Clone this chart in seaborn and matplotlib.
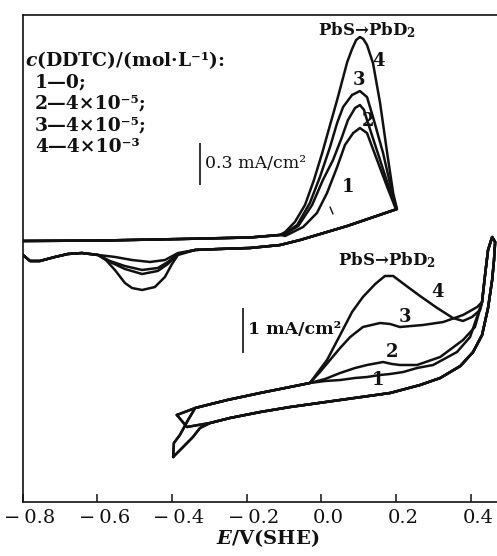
import numpy as np
import pandas as pd
import matplotlib
matplotlib.use("Agg")
import matplotlib.pyplot as plt
from matplotlib.transforms import ScaledTranslation
import seaborn as sns

# ---------------- data (E in V vs SHE, j in mA/cm^2) ----------------
# upper voltammograms (scan -0.8 -> 0.2 V)
up_fwd_base_E = [-0.802, -0.593, -0.379, -0.191, -0.111]
up_fwd_base_j = [-0.007, -0.004, 0.007, 0.018, 0.036]

up1_fwd_E = [-0.097, -0.049, -0.012, 0.015, 0.042, 0.063, 0.085, 0.103, 0.122, 0.149, 0.176, 0.197, 0.202]
up1_fwd_j = [0.029, 0.093, 0.193, 0.336, 0.521, 0.679, 0.764, 0.800, 0.764, 0.571, 0.379, 0.236, 0.221]
up2_fwd_E = [-0.097, -0.062, -0.025, 0.004, 0.031, 0.055, 0.071, 0.090, 0.103, 0.114, 0.122, 0.157, 0.189, 0.202]
up2_fwd_j = [0.043, 0.100, 0.250, 0.429, 0.571, 0.736, 0.857, 0.943, 0.964, 0.929, 0.857, 0.571, 0.307, 0.221]
up3_fwd_E = [-0.097, -0.065, -0.031, -0.004, 0.023, 0.042, 0.058, 0.082, 0.103, 0.122, 0.138, 0.165, 0.192, 0.202]
up3_fwd_j = [0.050, 0.107, 0.264, 0.450, 0.664, 0.836, 0.950, 1.036, 1.064, 1.021, 0.879, 0.621, 0.307, 0.221]
up4_fwd_E = [-0.097, -0.071, -0.044, -0.020, 0.002, 0.023, 0.042, 0.069, 0.082, 0.093, 0.103, 0.112, 0.122, 0.138, 0.157, 0.176, 0.192, 0.202]
up4_fwd_j = [0.057, 0.129, 0.250, 0.429, 0.621, 0.821, 1.000, 1.271, 1.364, 1.429, 1.450, 1.436, 1.393, 1.264, 0.979, 0.621, 0.336, 0.221]

up_rev_E = [0.202, 0.069, -0.057, -0.111, -0.191, -0.272, -0.338]
up_rev_j = [0.221, 0.100, 0.000, -0.036, -0.057, -0.064, -0.071]

up1_dip_E = [-0.384, -0.419, -0.459, -0.507, -0.553, -0.598]
up1_dip_j = [-0.093, -0.143, -0.157, -0.143, -0.121, -0.107]
up2_dip_E = [-0.384, -0.411, -0.438, -0.480, -0.526, -0.566, -0.598]
up2_dip_j = [-0.100, -0.157, -0.200, -0.214, -0.186, -0.150, -0.107]
up3_dip_E = [-0.384, -0.411, -0.438, -0.480, -0.526, -0.566, -0.598]
up3_dip_j = [-0.100, -0.171, -0.221, -0.243, -0.207, -0.157, -0.107]
up4_dip_E = [-0.384, -0.400, -0.419, -0.446, -0.480, -0.507, -0.526, -0.553, -0.577, -0.598]
up4_dip_j = [-0.107, -0.171, -0.264, -0.336, -0.357, -0.343, -0.307, -0.214, -0.143, -0.107]

up_tail_E = [-0.641, -0.679, -0.713, -0.754, -0.780, -0.802]
up_tail_j = [-0.093, -0.100, -0.121, -0.150, -0.150, -0.100]

# lower voltammograms (scan -0.4 -> 0.46 V)
lo_startA_E = [-0.397, -0.395, -0.379, -0.357, -0.338]
lo_startA_j = [-1.267, -0.956, -0.778, -0.444, -0.178]
lo_startB_E = [-0.387, -0.338]
lo_startB_j = [-0.333, -0.178]
lo_fwd_base_E = [-0.306, -0.252, -0.164, -0.084, -0.031]
lo_fwd_base_j = [-0.111, 0.000, 0.156, 0.289, 0.378]

lo1_E = [0.010, 0.050, 0.090, 0.122, 0.157, 0.184, 0.219, 0.256, 0.299, 0.363, 0.398]
lo1_j = [0.422, 0.444, 0.489, 0.511, 0.556, 0.578, 0.622, 0.711, 0.778, 1.067, 1.400]
lo2_E = [0.010, 0.050, 0.090, 0.122, 0.165, 0.189, 0.210, 0.256, 0.318, 0.379, 0.411]
lo2_j = [0.467, 0.600, 0.711, 0.778, 0.844, 0.800, 0.778, 0.778, 0.956, 1.333, 1.622]
lo3_E = [-0.004, 0.023, 0.050, 0.077, 0.111, 0.157, 0.184, 0.210, 0.272, 0.326, 0.379, 0.417]
lo3_j = [0.622, 0.889, 1.156, 1.400, 1.622, 1.711, 1.689, 1.622, 1.667, 1.733, 1.889, 2.067]
lo4_E = [-0.009, 0.015, 0.050, 0.082, 0.111, 0.144, 0.170, 0.192, 0.224, 0.264, 0.310, 0.352, 0.379, 0.403, 0.425]
lo4_j = [0.622, 0.889, 1.444, 1.956, 2.289, 2.578, 2.756, 2.756, 2.556, 2.311, 2.044, 1.822, 1.756, 1.844, 2.000]

lo_fwd_tail_E = [0.430, 0.438, 0.446, 0.457]
lo_fwd_tail_j = [2.178, 2.778, 3.333, 3.622]
lo_rev_E = [0.457, 0.465, 0.462, 0.457, 0.446, 0.430, 0.406, 0.372, 0.318, 0.264, 0.184, 0.050, -0.084, -0.164, -0.245, -0.298]
lo_rev_j = [3.622, 3.511, 3.111, 2.667, 2.044, 1.444, 1.067, 0.756, 0.489, 0.333, 0.156, 0.000, -0.156, -0.267, -0.400, -0.511]
lo_endA_E = [-0.325, -0.344, -0.373, -0.397]
lo_endA_j = [-0.622, -0.822, -1.067, -1.267]
lo_endB_E = [-0.330, -0.360, -0.387]
lo_endB_j = [-0.556, -0.600, -0.333]

curve_ids = ["1", "2", "3", "4"]
legend_title = "$c$(DDTC)/(mol·L⁻¹):"
legend_lines = ["1—0;", "2—4×10⁻⁵;", "3—4×10⁻⁵;", "4—4×10⁻³"]
xtick_values = [-0.8, -0.6, -0.4, -0.2, 0.0, 0.2, 0.4]
xtick_labels = ["−\u20090.8", "−\u20090.6", "−\u20090.4", "−\u20090.2", "0.0", "0.2", "0.4"]

# ---------------- build table ----------------
PX_PER_LOWER = 45.0          # px per mA/cm^2 (lower set)
UP_SCALE = 140.0 / 45.0      # upper set drawn 3.1x larger
UP_OFFSET = 262.0 / 45.0
LO_OFFSET = 102.0 / 45.0

up_fwd = {"1": (up1_fwd_E, up1_fwd_j), "2": (up2_fwd_E, up2_fwd_j),
          "3": (up3_fwd_E, up3_fwd_j), "4": (up4_fwd_E, up4_fwd_j)}
up_dip = {"1": (up1_dip_E, up1_dip_j), "2": (up2_dip_E, up2_dip_j),
          "3": (up3_dip_E, up3_dip_j), "4": (up4_dip_E, up4_dip_j)}
lo_fwd = {"1": (lo1_E, lo1_j), "2": (lo2_E, lo2_j), "3": (lo3_E, lo3_j), "4": (lo4_E, lo4_j)}

rows = []
for c in curve_ids:
    E = up_fwd_base_E + up_fwd[c][0] + up_rev_E + up_dip[c][0] + up_tail_E
    j = up_fwd_base_j + up_fwd[c][1] + up_rev_j + up_dip[c][1] + up_tail_j
    for i, (e, v) in enumerate(zip(E, j)):
        rows.append(dict(trace="up" + c, order=i, E=e, y=UP_OFFSET + UP_SCALE * v))
    if c in ("3", "4"):
        sE, sj, eE, ej = lo_startA_E, lo_startA_j, lo_endA_E, lo_endA_j
    else:
        sE, sj, eE, ej = lo_startB_E, lo_startB_j, lo_endB_E, lo_endB_j
    E = sE + lo_fwd_base_E + lo_fwd[c][0] + lo_fwd_tail_E + lo_rev_E + eE
    j = sj + lo_fwd_base_j + lo_fwd[c][1] + lo_fwd_tail_j + lo_rev_j + ej
    for i, (e, v) in enumerate(zip(E, j)):
        rows.append(dict(trace="lo" + c, order=i, E=e, y=LO_OFFSET + v))
df = pd.DataFrame(rows)

# ---------------- plot ----------------
sns.set_theme(style="white")
plt.rcParams["font.family"] = ["DejaVu Serif"]
plt.rcParams["mathtext.fontset"] = "custom"
plt.rcParams["mathtext.rm"] = "DejaVu Serif:bold"
plt.rcParams["mathtext.it"] = "DejaVu Serif:italic:bold"
plt.rcParams["mathtext.bf"] = "DejaVu Serif:bold"

W, H = 497, 556
fig = plt.figure(figsize=(W / 100, H / 100), dpi=100)
ax = fig.add_axes([22.6 / W, 54 / H, 1 - 22.6 / W, 487 / H])

sns.lineplot(data=df, x="E", y="y", units="trace", estimator=None, sort=False,
             color="#111111", lw=1.8, ax=ax, legend=False)

ax.set_xlim(-0.8, 0.470)
ax.set_ylim(0, 487 / PX_PER_LOWER)
ax.set_yticks([])
ax.set_ylabel("")
ax.set_xticks(xtick_values)
ax.set_xticklabels(xtick_labels)
ax.tick_params(axis="x", direction="in", length=6, width=1.1, pad=5,
               labelsize=14, colors="#111111", bottom=True)
shift = ScaledTranslation(7 / 100, 0, fig.dpi_scale_trans)
for lbl in ax.get_xticklabels():
    lbl.set_transform(lbl.get_transform() + shift)
for s in ["top", "left", "bottom"]:
    ax.spines[s].set_visible(True)
    ax.spines[s].set_color("#111111")
    ax.spines[s].set_linewidth(1.2)
ax.spines["right"].set_visible(False)
ax.set_xlabel("$E$/V(SHE)", fontsize=14, fontweight="bold", labelpad=3, color="#111111")
ax.xaxis.set_label_coords(0.517, -0.052)

def Y(px):
    return (502 - px) / PX_PER_LOWER

kw = dict(color="#111111", fontweight="bold")
# legend block
ax.text(-0.794, Y(60), legend_title, fontsize=13.5, va="center", ha="left", **kw)
for k, s in enumerate(legend_lines):
    ax.text(-0.767, Y(82 + 21.7 * k), s, fontsize=13.5, va="center", ha="left", **kw)

# upper set annotations
ax.text(0.122, Y(30), "PbS→PbD$_2$", fontsize=12, ha="center", va="center", **kw)
for lab, (e, py) in zip(curve_ids, [(0.071, 187), (0.125, 121), (0.101, 80), (0.154, 61)]):
    ax.text(e, Y(py), lab, fontsize=13, ha="center", va="center", **kw)
ax.plot([0.023, 0.031], [Y(207), Y(214)], color="#111111", lw=1.0)
ax.vlines(-0.326, Y(185), Y(143), color="#111111", lw=1.2)
ax.text(-0.312, Y(163), "0.3 mA/cm²", fontsize=12.5, ha="left", va="center", color="#111111")

# lower set annotations
ax.text(0.175, Y(260), "PbS→PbD$_2$", fontsize=12, ha="center", va="center", **kw)
for lab, (e, py) in zip(curve_ids, [(0.152, 380), (0.189, 352), (0.224, 317), (0.310, 292)]):
    ax.text(e, Y(py), lab, fontsize=13, ha="center", va="center", **kw)
ax.vlines(-0.210, Y(353), Y(308), color="#111111", lw=1.2)
ax.text(-0.196, Y(330), "1 mA/cm²", fontsize=12.5, ha="left", va="center", **kw)

fig.savefig("out.png", dpi=100, facecolor="white")
